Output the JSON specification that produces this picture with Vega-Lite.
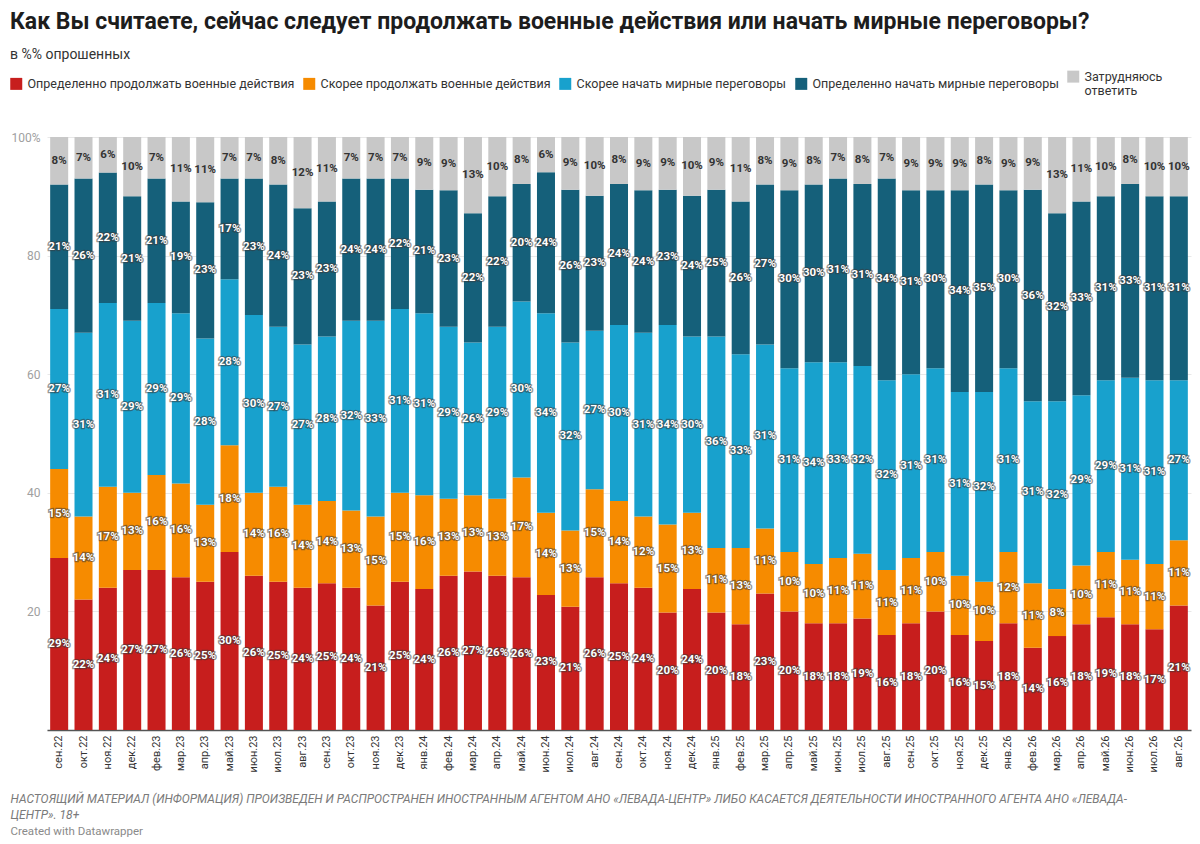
{
  "$schema": "https://vega.github.io/schema/vega-lite/v6.json",
  "width": 1144,
  "height": 593,
  "autosize": {"type": "none"},
  "padding": {"left": 47, "top": 137, "right": 9, "bottom": 114},
  "background": "white",
  "title": {
    "text": "Как Вы считаете, сейчас следует продолжать военные действия или начать мирные переговоры?",
    "subtitle": "в %% опрошенных",
    "anchor": "start",
    "frame": "group",
    "dx": -37,
    "offset": 8,
    "fontSize": 23,
    "fontWeight": "bold",
    "color": "#1d1d1d",
    "subtitleFontSize": 14,
    "subtitleColor": "#333333",
    "subtitlePadding": 14
  },
  "data": {
    "values": [
      {"m": "сен.22", "a": 29, "b": 15, "c": 27, "d": 21, "e": 8},
      {"m": "окт.22", "a": 22, "b": 14, "c": 31, "d": 26, "e": 7},
      {"m": "ноя.22", "a": 24, "b": 17, "c": 31, "d": 22, "e": 6},
      {"m": "дек.22", "a": 27, "b": 13, "c": 29, "d": 21, "e": 10},
      {"m": "фев.23", "a": 27, "b": 16, "c": 29, "d": 21, "e": 7},
      {"m": "мар.23", "a": 26, "b": 16, "c": 29, "d": 19, "e": 11},
      {"m": "апр.23", "a": 25, "b": 13, "c": 28, "d": 23, "e": 11},
      {"m": "май.23", "a": 30, "b": 18, "c": 28, "d": 17, "e": 7},
      {"m": "июн.23", "a": 26, "b": 14, "c": 30, "d": 23, "e": 7},
      {"m": "июл.23", "a": 25, "b": 16, "c": 27, "d": 24, "e": 8},
      {"m": "авг.23", "a": 24, "b": 14, "c": 27, "d": 23, "e": 12},
      {"m": "сен.23", "a": 25, "b": 14, "c": 28, "d": 23, "e": 11},
      {"m": "окт.23", "a": 24, "b": 13, "c": 32, "d": 24, "e": 7},
      {"m": "ноя.23", "a": 21, "b": 15, "c": 33, "d": 24, "e": 7},
      {"m": "дек.23", "a": 25, "b": 15, "c": 31, "d": 22, "e": 7},
      {"m": "янв.24", "a": 24, "b": 16, "c": 31, "d": 21, "e": 9},
      {"m": "фев.24", "a": 26, "b": 13, "c": 29, "d": 23, "e": 9},
      {"m": "мар.24", "a": 27, "b": 13, "c": 26, "d": 22, "e": 13},
      {"m": "апр.24", "a": 26, "b": 13, "c": 29, "d": 22, "e": 10},
      {"m": "май.24", "a": 26, "b": 17, "c": 30, "d": 20, "e": 8},
      {"m": "июн.24", "a": 23, "b": 14, "c": 34, "d": 24, "e": 6},
      {"m": "июл.24", "a": 21, "b": 13, "c": 32, "d": 26, "e": 9},
      {"m": "авг.24", "a": 26, "b": 15, "c": 27, "d": 23, "e": 10},
      {"m": "сен.24", "a": 25, "b": 14, "c": 30, "d": 24, "e": 8},
      {"m": "окт.24", "a": 24, "b": 12, "c": 31, "d": 24, "e": 9},
      {"m": "ноя.24", "a": 20, "b": 15, "c": 34, "d": 23, "e": 9},
      {"m": "дек.24", "a": 24, "b": 13, "c": 30, "d": 24, "e": 10},
      {"m": "янв.25", "a": 20, "b": 11, "c": 36, "d": 25, "e": 9},
      {"m": "фев.25", "a": 18, "b": 13, "c": 33, "d": 26, "e": 11},
      {"m": "мар.25", "a": 23, "b": 11, "c": 31, "d": 27, "e": 8},
      {"m": "апр.25", "a": 20, "b": 10, "c": 31, "d": 30, "e": 9},
      {"m": "май.25", "a": 18, "b": 10, "c": 34, "d": 30, "e": 8},
      {"m": "июн.25", "a": 18, "b": 11, "c": 33, "d": 31, "e": 7},
      {"m": "июл.25", "a": 19, "b": 11, "c": 32, "d": 31, "e": 8},
      {"m": "авг.25", "a": 16, "b": 11, "c": 32, "d": 34, "e": 7},
      {"m": "сен.25", "a": 18, "b": 11, "c": 31, "d": 31, "e": 9},
      {"m": "окт.25", "a": 20, "b": 10, "c": 31, "d": 30, "e": 9},
      {"m": "ноя.25", "a": 16, "b": 10, "c": 31, "d": 34, "e": 9},
      {"m": "дек.25", "a": 15, "b": 10, "c": 32, "d": 35, "e": 8},
      {"m": "янв.26", "a": 18, "b": 12, "c": 31, "d": 30, "e": 9},
      {"m": "фев.26", "a": 14, "b": 11, "c": 31, "d": 36, "e": 9},
      {"m": "мар.26", "a": 16, "b": 8, "c": 32, "d": 32, "e": 13},
      {"m": "апр.26", "a": 18, "b": 10, "c": 29, "d": 33, "e": 11},
      {"m": "май.26", "a": 19, "b": 11, "c": 29, "d": 31, "e": 10},
      {"m": "июн.26", "a": 18, "b": 11, "c": 31, "d": 33, "e": 8},
      {"m": "июл.26", "a": 17, "b": 11, "c": 31, "d": 31, "e": 10},
      {"m": "авг.26", "a": 21, "b": 11, "c": 27, "d": 31, "e": 10}
    ]
  },
  "transform": [
    {"fold": ["a", "b", "c", "d", "e"], "as": ["key", "v"]},
    {"calculate": "{'a': 'Определенно продолжать военные действия', 'b': 'Скорее продолжать военные действия', 'c': 'Скорее начать мирные переговоры', 'd': 'Определенно начать мирные переговоры', 'e': 'Затрудняюсь ответить'}[datum.key]", "as": "s"},
    {"stack": "v", "groupby": ["m"], "sort": [{"field": "key", "order": "ascending"}], "offset": "normalize", "as": ["v0", "v1"]},
    {"calculate": "(datum.v0 + datum.v1) / 2", "as": "mid"},
    {"calculate": "datum.v + '%'", "as": "lbl"}
  ],
  "encoding": {
    "x": {
      "field": "m",
      "type": "ordinal",
      "sort": null,
      "scale": {"paddingInner": 0.26, "paddingOuter": 0.13},
      "axis": {
        "title": ["НАСТОЯЩИЙ МАТЕРИАЛ (ИНФОРМАЦИЯ) ПРОИЗВЕДЕН И РАСПРОСТРАНЕН ИНОСТРАННЫМ АГЕНТОМ АНО «ЛЕВАДА-ЦЕНТР» ЛИБО КАСАЕТСЯ ДЕЯТЕЛЬНОСТИ ИНОСТРАННОГО АГЕНТА АНО «ЛЕВАДА-", "ЦЕНТР». 18+"],
        "titleX": -37,
        "titleY": 63,
        "titleAlign": "left",
        "titleAnchor": "start",
        "titleBaseline": "top",
        "titleFontSize": 12,
        "titleFontStyle": "italic",
        "titleFontWeight": "normal",
        "titleColor": "#7a7a7a",
        "titleLineHeight": 16,
        "labelAngle": 270,
        "labelFontSize": 11,
        "labelColor": "#333333",
        "labelPadding": 5,
        "ticks": false,
        "domainColor": "#555555",
        "domainWidth": 1.5
      }
    }
  },
  "layer": [
    {
      "mark": {"type": "bar"},
      "encoding": {
        "y": {
          "field": "v0",
          "type": "quantitative",
          "scale": {"domain": [0, 1]},
          "axis": {
            "values": [0, 0.2, 0.4, 0.6, 0.8, 1],
            "labelExpr": "datum.value == 1 ? '100%' : datum.value == 0 ? '' : format(datum.value * 100, 'd')",
            "title": "Created with Datawrapper",
            "titleAngle": 0,
            "titleX": -37,
            "titleY": 688,
            "titleAlign": "left",
            "titleBaseline": "top",
            "titleFontSize": 11.5,
            "titleFontWeight": "normal",
            "titleColor": "#8a8a8a",
            "labelColor": "#a0a0a0",
            "labelFontSize": 12,
            "labelPadding": 7,
            "ticks": false,
            "domain": false,
            "grid": true,
            "gridColor": "#e8e8e8"
          }
        },
        "y2": {"field": "v1"},
        "color": {
          "field": "s",
          "type": "nominal",
          "scale": {
            "domain": ["Определенно продолжать военные действия", "Скорее продолжать военные действия", "Скорее начать мирные переговоры", "Определенно начать мирные переговоры", "Затрудняюсь ответить"],
            "range": ["#c71e1d", "#f68b00", "#18a1cd", "#15607a", "#c8c8c8"]
          },
          "legend": {
            "orient": "none",
            "legendX": -37,
            "legendY": -67,
            "direction": "horizontal",
            "title": null,
            "symbolType": "square",
            "symbolSize": 144,
            "symbolStrokeWidth": 0,
            "symbolOpacity": 1,
            "labelFontSize": 12.5,
            "labelColor": "#333333",
            "labelLimit": 500,
            "labelOffset": 5,
            "columnPadding": 8,
            "labelExpr": "datum.label == 'Затрудняюсь ответить' ? ['Затрудняюсь', 'ответить'] : datum.label",
            "labelBaseline": "middle"
          }
        }
      }
    },
    {
      "transform": [{"filter": "datum.key != 'e'"}],
      "mark": {"type": "text", "fontSize": 11.5, "fontWeight": "bold", "stroke": "#3a3a3a", "strokeWidth": 2.5, "strokeOpacity": 0.55, "baseline": "middle"},
      "encoding": {
        "y": {"field": "mid", "type": "quantitative"},
        "text": {"field": "lbl"},
        "color": {"value": "#3a3a3a"}
      }
    },
    {
      "mark": {"type": "text", "fontSize": 11.5, "fontWeight": "bold", "baseline": "middle"},
      "encoding": {
        "y": {"field": "mid", "type": "quantitative"},
        "text": {"field": "lbl"},
        "color": {"condition": {"test": "datum.key == 'e'", "value": "#333333"}, "value": "#ffffff"}
      }
    }
  ],
  "config": {
    "font": "Roboto",
    "view": {"stroke": null}
  }
}
